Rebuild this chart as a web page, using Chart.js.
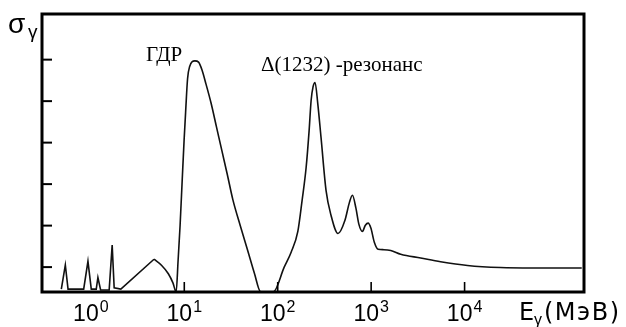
<!DOCTYPE html>
<html>
<head>
<meta charset="utf-8">
<script src="https://cdn.jsdelivr.net/npm/chart.js@4/dist/chart.umd.min.js"></script>
<style>
  html, body { margin: 0; padding: 0; background: #fff; }
  #wrap { width: 626px; height: 327px; position: relative; }
</style>
</head>
<body>
<div id="wrap"><canvas id="myChart"></canvas></div>
<script>
// photon energy (MeV) and cross-section (arb. units)
// low-energy discrete lines
const spikeEnergy = [0.483, 0.533, 0.570, 0.838, 0.931, 1.01, 1.142, 1.19, 1.272, 1.571, 1.691, 1.776, 2.094, 4.74];
const spikeSigma  = [0.47, 1.05, 0.47, 0.47, 1.14, 0.47, 0.47, 0.75, 0.45, 0.45, 1.53, 0.50, 0.47, 1.19];

// smooth part: giant dipole resonance, Delta(1232) and higher resonances
const curveEnergy = [4.74, 5.73, 6.75, 7.56, 8.18, 8.59, 9.02, 9.52, 9.95, 10.33, 10.84, 11.39, 12.97, 14.21,
  15.48, 17.08, 19.31, 22.10, 25.29, 28.95, 33.14, 39.83, 47.88, 56.17, 65.9, 89.5, 117.3, 139.2, 164.2,
  182.4, 201.4, 216.8, 227.6, 239.0, 251.1, 268.3, 290.9, 328.9, 371.9, 441.6, 524.4, 585.6, 630.5, 687.0,
  739.6, 805.4, 867.0, 928.9, 993.0, 1081, 1188, 1366, 1622, 2073, 3388, 5534, 10740, 24150, 54300, 179400];
const curveSigma = [1.19, 1.04, 0.84, 0.62, 0.40, 1.17, 2.01, 3.14, 4.05, 4.73, 5.54, 5.83, 5.97, 5.94,
  5.75, 5.41, 4.96, 4.38, 3.80, 3.22, 2.62, 1.99, 1.39, 0.86, 0.40, 0.40, 1.00, 1.36, 1.86,
  2.61, 3.40, 4.29, 5.01, 5.35, 5.45, 4.94, 4.12, 2.85, 2.25, 1.81, 2.13, 2.56, 2.73, 2.42,
  2.03, 1.86, 2.01, 2.06, 1.94, 1.60, 1.43, 1.42, 1.40, 1.31, 1.22, 1.13, 1.04, 0.99, 0.98, 0.98];

const xTickValues = [1, 10, 100, 1000, 10000];
const xTickExp    = ['0', '1', '2', '3', '4'];
const xTickMarks  = [10, 100, 1000, 10000];
const yTickValues = [1, 2, 3, 4, 5, 6];

const toPoints = (xs, ys) => xs.map((x, i) => ({ x: x, y: ys[i] }));

const SANS = '"Liberation Sans", Arial, sans-serif';
const WIDE = '"DejaVu Sans", sans-serif';
const SERIF = '"Liberation Serif", "Times New Roman", serif';

// frame, inward ticks, 10^n tick labels and the annotations
const framePlugin = {
  id: 'frame',
  afterDatasetsDraw(chart) {
    const ctx = chart.ctx;
    const a = chart.chartArea;
    const xs = chart.scales.x, ys = chart.scales.y;
    ctx.save();
    ctx.strokeStyle = '#000';
    ctx.lineWidth = 2;
    yTickValues.forEach(v => {
      const y = ys.getPixelForValue(v);
      ctx.beginPath(); ctx.moveTo(a.left, y); ctx.lineTo(a.left + 10, y); ctx.stroke();
    });
    ctx.lineWidth = 1.6;
    xTickMarks.forEach(v => {
      const x = xs.getPixelForValue(v);
      ctx.beginPath(); ctx.moveTo(x, a.bottom); ctx.lineTo(x, a.bottom - 10); ctx.stroke();
    });
    ctx.lineWidth = 3;
    ctx.strokeRect(a.left, a.top, a.right - a.left, a.bottom - a.top);

    ctx.fillStyle = '#000';
    ctx.textBaseline = 'alphabetic';

    // tick labels: "10" with a superscript exponent
    xTickValues.forEach((v, i) => {
      const x = xs.getPixelForValue(v);
      ctx.font = '23px ' + SANS;
      const wb = ctx.measureText('10').width;
      ctx.font = '16px ' + SANS;
      const we = ctx.measureText(xTickExp[i]).width;
      const left = x - (wb + 1 + we) / 2;
      ctx.font = '23px ' + SANS;
      ctx.fillText('10', left, 321);
      ctx.font = '16px ' + SANS;
      ctx.fillText(xTickExp[i], left + wb + 1, 312);
    });

    ctx.font = '28px ' + SANS;
    ctx.fillText('σ', 8, 33);
    ctx.font = '19px ' + SANS;
    ctx.fillText('γ', 28, 38);

    ctx.font = '21px ' + SERIF;
    ctx.fillText('ГДР', 146, 61);
    ctx.fillText('Δ(1232) -резонанс', 261, 71);

    ctx.font = '24px ' + WIDE;
    ctx.fillText('E', 519, 320);
    ctx.letterSpacing = '1.5px';
    ctx.fillText('(МэВ)', 544, 320);
    ctx.letterSpacing = '0px';
    ctx.font = '16px ' + SANS;
    ctx.fillText('γ', 534, 325);
    ctx.restore();
  }
};

new Chart(document.getElementById('myChart'), {
  type: 'line',
  data: {
    datasets: [
      {
        data: toPoints(spikeEnergy, spikeSigma),
        borderColor: '#111',
        borderWidth: 1.6,
        pointRadius: 0,
        tension: 0
      },
      {
        data: toPoints(curveEnergy, curveSigma),
        borderColor: '#111',
        borderWidth: 1.6,
        pointRadius: 0,
        cubicInterpolationMode: 'monotone'
      }
    ]
  },
  options: {
    responsive: true,
    maintainAspectRatio: false,
    animation: false,
    layout: { padding: { left: 42, right: 42, top: 14, bottom: 0 } },
    plugins: { legend: { display: false }, tooltip: { enabled: false } },
    scales: {
      x: {
        type: 'logarithmic',
        min: 0.316,
        max: 189700,
        grid: { display: false, drawTicks: false },
        border: { display: false },
        afterBuildTicks: s => { s.ticks = xTickValues.map(v => ({ value: v })); },
        afterFit: s => { s.height = 35; },
        ticks: { display: false }
      },
      y: {
        display: false,
        min: 0.4,
        max: 7.1
      }
    }
  },
  plugins: [framePlugin]
});
</script>
</body>
</html>
